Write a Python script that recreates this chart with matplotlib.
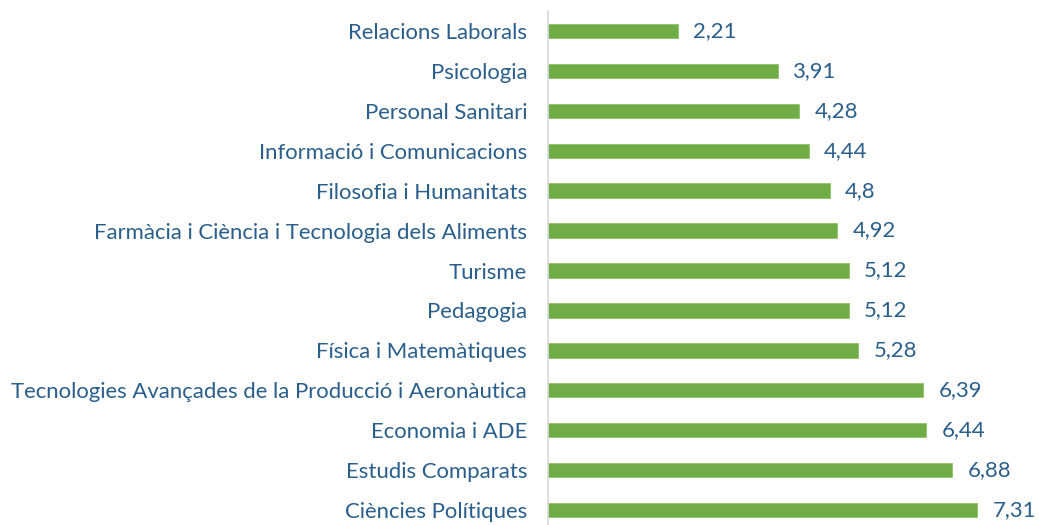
import matplotlib
matplotlib.use("Agg")
import matplotlib.pyplot as plt

categories = [
    "Relacions Laborals",
    "Psicologia",
    "Personal Sanitari",
    "Informació i Comunicacions",
    "Filosofia i Humanitats",
    "Farmàcia i Ciència i Tecnologia dels Aliments",
    "Turisme",
    "Pedagogia",
    "Física i Matemàtiques",
    "Tecnologies Avançades de la Producció i Aeronàutica",
    "Economia i ADE",
    "Estudis Comparats",
    "Ciències Polítiques",
]
values = [2.21, 3.91, 4.28, 4.44, 4.8, 4.92, 5.12, 5.12, 5.28, 6.39, 6.44, 6.88, 7.31]
value_labels = ["2,21", "3,91", "4,28", "4,44", "4,8", "4,92", "5,12", "5,12", "5,28", "6,39", "6,44", "6,88", "7,31"]

text_color = "#2A5F8C"
bar_color = "#70AD47"
plt.rcParams['font.family'] = ['Lato', 'DejaVu Sans']

fig = plt.figure(figsize=(10.39, 5.25), dpi=100)
ax = fig.add_axes([0.5274, -0.0095, 0.991 - 0.5274, 0.979 + 0.0095])

ypos = list(range(len(categories)))
ax.barh(ypos, values, height=0.36, color=bar_color, edgecolor="#8CC46A", linewidth=0.6)
ax.set_ylim(len(categories) - 0.5, -0.5)
ax.set_xlim(0, 8.2)
ax.set_yticks(ypos)
ax.set_yticklabels(categories, fontsize=15.9, color=text_color)
ax.tick_params(axis='y', length=0, pad=15)
ax.set_xticks([])
for s in ["top", "right", "bottom"]:
    ax.spines[s].set_visible(False)
ax.spines["left"].set_color("#D9D9D9")
ax.spines["left"].set_linewidth(1.2)

for y, v, lab in zip(ypos, values, value_labels):
    ax.text(v + 0.26, y, lab, va="center", ha="left", fontsize=15.9, color=text_color)

fig.savefig("out.png", dpi=100)
